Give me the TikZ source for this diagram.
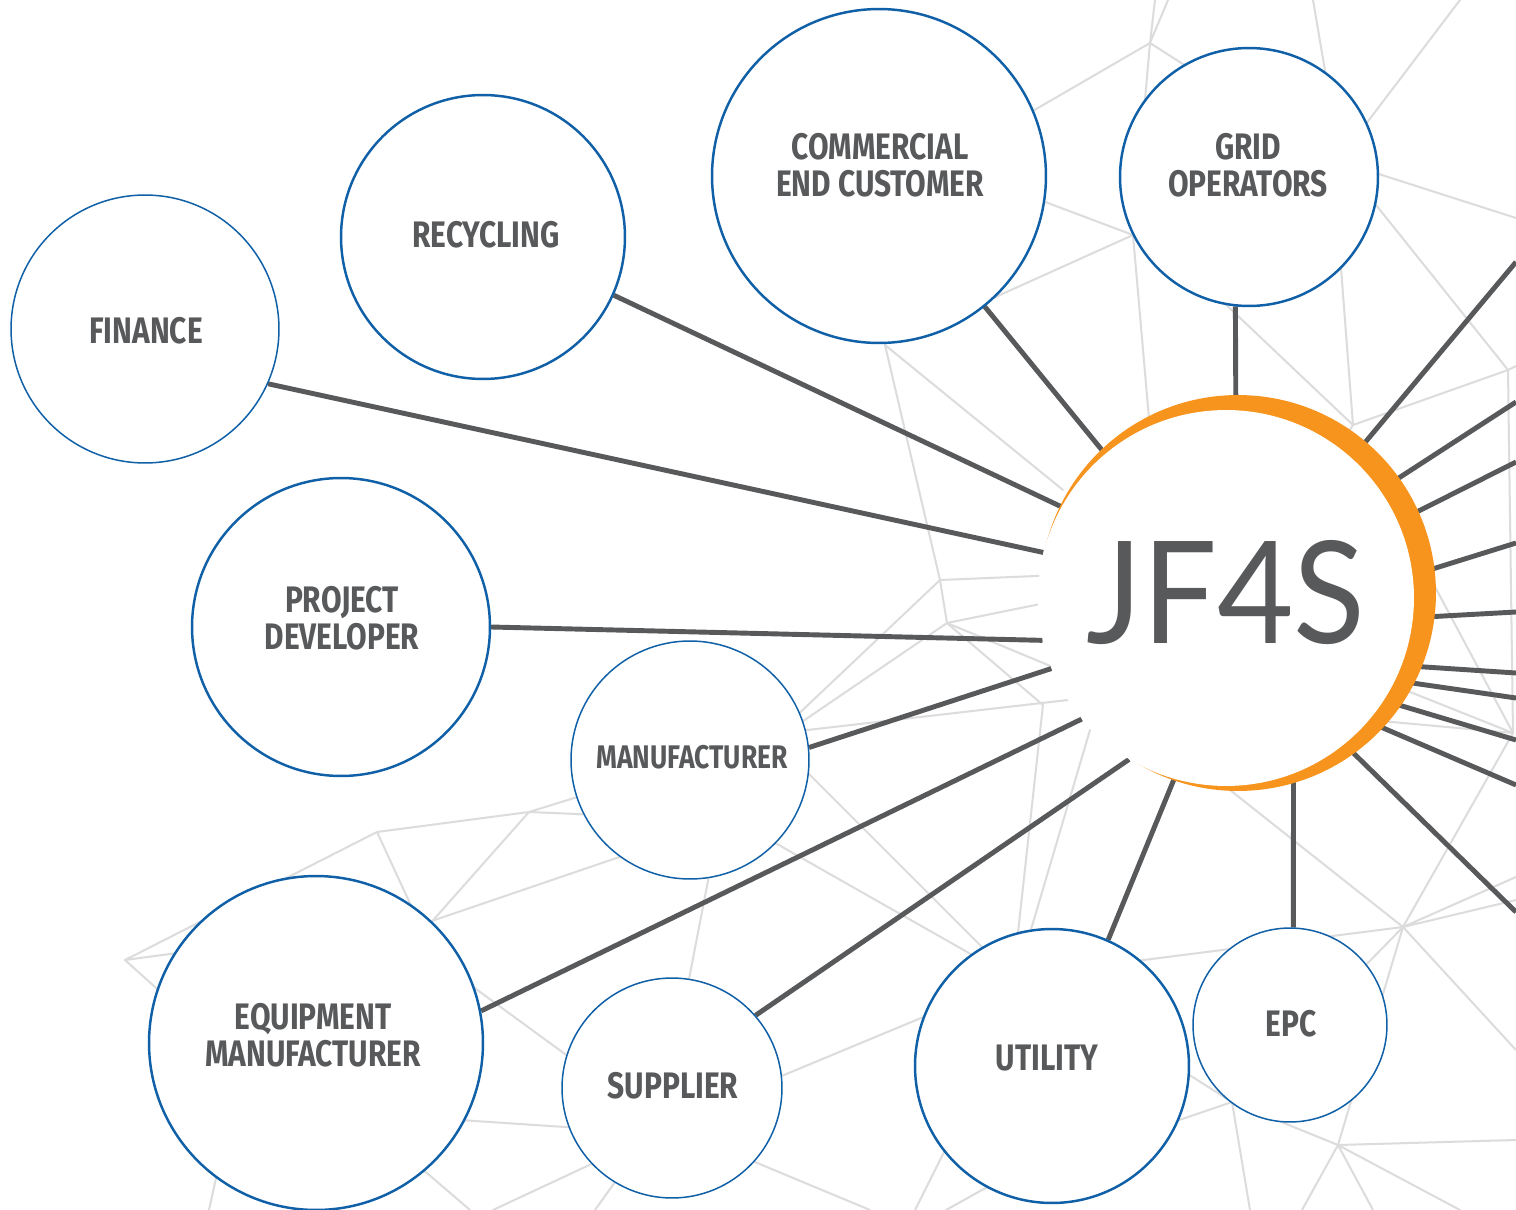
\documentclass[tikz,border=0pt]{standalone}
\usepackage{fontspec}
\newfontfamily\labfont{Fira Sans}[FakeStretch=0.81]
\newfontfamily\logofont{Lato}[FakeStretch=0.93]
\definecolor{jblue}{RGB}{16,96,168}
\definecolor{jtext}{RGB}{88,89,91}
\definecolor{jline}{RGB}{88,89,91}
\definecolor{jmesh}{RGB}{220,220,220}
\definecolor{jorange}{RGB}{247,148,30}
\pgfdeclarelayer{bottom}
\pgfdeclarelayer{background}
\pgfsetlayers{bottom,background,main}
\begin{document}
\begin{tikzpicture}[x=0.02cm,y=-0.02cm,
  party/.style={circle, draw=jblue, fill=white, inner sep=0pt, line width=1.4pt},
  thinparty/.style={party, line width=0.85pt},
  lab/.style={text=jtext, font={\labfont\bfseries\fontsize{21pt}{21pt}\selectfont}, align=center, inner sep=0pt},
  smalllab/.style={lab, font={\labfont\bfseries\fontsize{18.6pt}{18.6pt}\selectfont}},
  conn/.style={draw=jline, line width=2.8pt},
  mesh/.style={draw=jmesh, line width=1.15pt, line cap=round, line join=round}]
\useasboundingbox (0,0) rectangle (1516,1210);
\clip (0,0) rectangle (1516,1210);
\begin{pgfonlayer}{bottom}
\fill[white] (0,0) rectangle (1516,1210);
\end{pgfonlayer}

% central JF4S
\fill[jorange] (1238,593) circle[radius=3.96cm];
\node[circle, fill=white, inner sep=0pt, minimum size=7.52cm] (jf) at (1226,598) {};
\node[text=jtext, font={\logofont\fontsize{81pt}{81pt}\selectfont}, anchor=base, inner sep=0pt] (jft) at (1226,643) {JF4S};

% partner circles
\node[thinparty, minimum size=5.36cm] (fin) at (145,329) {};
\node[party, minimum size=5.68cm] (rec) at (483,237) {};
\node[party, minimum size=6.68cm] (com) at (879,176) {};
\node[party, minimum size=5.16cm] (grid) at (1249,177) {};
\node[party, minimum size=5.96cm] (proj) at (341,627) {};
\node[thinparty, minimum size=4.76cm] (man) at (690,760) {};
\node[party, minimum size=6.68cm] (equ) at (316,1043) {};
\node[thinparty, minimum size=4.40cm] (sup) at (672,1088) {};
\node[party, minimum size=5.48cm] (uti) at (1052,1066) {};
\node[thinparty, minimum size=3.88cm] (epc) at (1290,1025) {};

% labels
\node[lab] (fin-l) at (146,331) {FINANCE};
\node[lab] (rec-l) at (486,235) {RECYCLING};
\node[lab] (com-l) at (880,165) {COMMERCIAL\\END CUSTOMER};
\node[lab] (grid-l) at (1248,165) {GRID\\OPERATORS};
\node[lab] (proj-l) at (342,618) {PROJECT\\DEVELOPER};
\node[smalllab] (man-l) at (692,757) {MANUFACTURER};
\node[lab] (equ-l) at (313,1035) {EQUIPMENT\\MANUFACTURER};
\node[lab] (sup-l) at (673,1086) {SUPPLIER};
\node[lab] (uti-l) at (1047,1058) {UTILITY};
\node[lab] (epc-l) at (1291,1024) {EPC};

% free ends of connectors on the right
\coordinate (r1) at (1516,262);
\coordinate (r2) at (1516,402);
\coordinate (r3) at (1516,462);
\coordinate (r4) at (1516,543);
\coordinate (r5) at (1516,612);
\coordinate (r6) at (1516,673);
\coordinate (r7) at (1516,698);
\coordinate (r8) at (1516,740);
\coordinate (r9) at (1516,785);
\coordinate (r10) at (1516,912);

\begin{pgfonlayer}{background}
% mesh
\draw[mesh] (1155,0) -- (1150,43) -- (1168,0);
\draw[mesh] (1000,130) -- (1150,43) -- (1200,75);
\draw[mesh] (1150,43) -- (1133,235) -- (1150,430);
\draw[mesh] (1000,185) -- (1133,235) -- (960,313);
\draw[mesh] (1313,0) -- (1330,100);
\draw[mesh] (1460,0) -- (1350,145);
\draw[mesh] (1360,168) -- (1516,218);
\draw[mesh] (1360,185) -- (1508,370);
\draw[mesh] (1340,255) -- (1353,425);
\draw[mesh] (1200,280) -- (1353,425);
\draw[mesh] (1508,370) -- (1353,425) -- (1330,460);
\draw[mesh] (1508,370) -- (1516,366);
\draw[mesh] (1508,370) -- (1513,733);
\draw[mesh] (1410,540) -- (1513,733);
\draw[mesh] (1380,680) -- (1513,733);
\draw[mesh] (1370,720) -- (1513,733);
\draw[mesh] (1513,733) -- (1403,927);
\draw[mesh] (1516,877) -- (1403,927) -- (1516,900);
\draw[mesh] (1516,1050) -- (1403,927);
\draw[mesh] (1230,790) -- (1403,927);
\draw[mesh] (1120,963) -- (1403,927);
\draw[mesh] (1403,927) -- (1338,1145);
\draw[mesh] (1403,927) -- (1232,1102);
\draw[mesh] (1150,1050) -- (1232,1102) -- (1150,1130);
\draw[mesh] (1232,1102) -- (1250,1210);
\draw[mesh] (1232,1102) -- (1338,1145);
\draw[mesh] (1516,1140) -- (1338,1145) -- (1460,1210);
\draw[mesh] (1373,1210) -- (1338,1145) -- (1302,1210);
% middle
\draw[mesh] (885,345) -- (940,580);
\draw[mesh] (885,345) -- (1063,490);
\draw[mesh] (940,580) -- (1060,575);
\draw[mesh] (940,580) -- (947,623) -- (1060,600);
\draw[mesh] (940,580) -- (790,722);
\draw[mesh] (947,623) -- (790,730);
\draw[mesh] (947,623) -- (1043,705);
\draw[mesh] (947,623) -- (1060,670);
\draw[mesh] (790,732) -- (1068,700);
\draw[mesh] (1043,705) -- (1015,960);
\draw[mesh] (1090,730) -- (1022,960);
\draw[mesh] (790,755) -- (1000,965);
\draw[mesh] (770,840) -- (990,965);
\draw[mesh] (760,1085) -- (945,1008);
\draw[mesh] (750,1160) -- (870,1210);
\draw[mesh] (915,1210) -- (950,1140);
\draw[mesh] (946,1210) -- (1000,1180);
% left bottom
\draw[mesh] (200,950) -- (125,960) -- (175,1005);
\draw[mesh] (125,960) -- (377,832) -- (529,812);
\draw[mesh] (377,832) -- (420,925);
\draw[mesh] (600,790) -- (529,812) -- (600,815);
\draw[mesh] (529,812) -- (420,935);
\draw[mesh] (420,925) -- (640,850);
\draw[mesh] (450,970) -- (580,1065);
\draw[mesh] (712,860) -- (685,1000);
\draw[mesh] (460,1120) -- (580,1128);
\draw[mesh] (400,1150) -- (470,1210);
\draw[mesh] (493,1210) -- (600,1160);
\draw[mesh] (595,1210) -- (620,1175);
\draw[mesh] (220,1160) -- (209,1210);

% connectors
\draw[conn] (fin.-24.7) -- (jf.166.4);
\draw[conn] (rec.-24.6) -- (jf.151.7);
\draw[conn] (com.-51) -- (jf.130.9);
\draw[conn] (grid.-96.2) -- (jf.87.3);
\draw[conn] (proj.0.4) -- (jf.-167.3);
\draw[conn] (man.6.7) -- (jf.-158.1);
\draw[conn] (equ.11.4) -- (jf.-140.2);
\draw[conn] (sup.41.3) -- (jf.-121.9);
\draw[conn] (uti.66.8) -- (jf.-106.4);
\draw[conn] (epc.88.2) -- (jf.-69);
\draw[conn] (jf.48.7) -- (r1);
\draw[conn] (jf.35.6) -- (r2);
\draw[conn] (jf.24.1) -- (r3);
\draw[conn] (jf.7.1) -- (r4);
\draw[conn] (jf.-6.8) -- (r5);
\draw[conn] (jf.-21.3) -- (r6);
\draw[conn] (jf.-26.6) -- (r7);
\draw[conn] (jf.-33.7) -- (r8);
\draw[conn] (jf.-41.4) -- (r9);
\draw[conn] (jf.-51.2) -- (r10);
\end{pgfonlayer}
\end{tikzpicture}
\end{document}
